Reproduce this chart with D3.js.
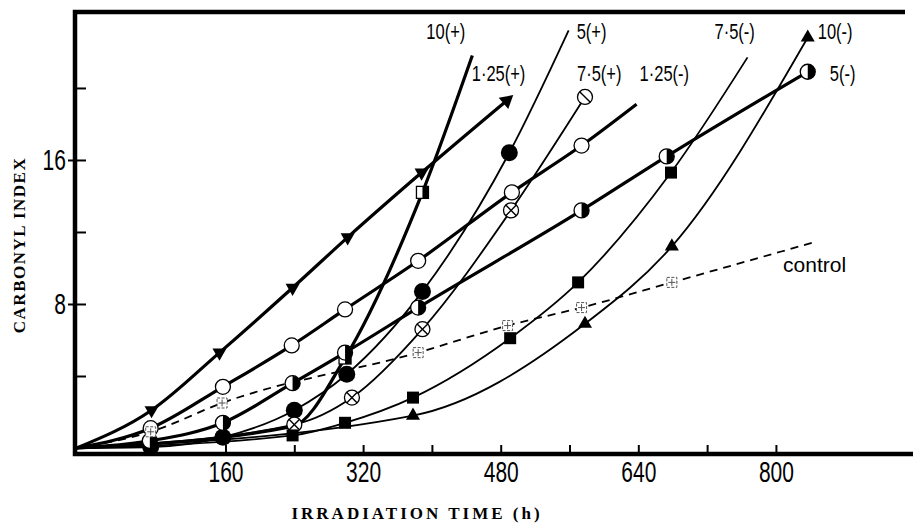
<!DOCTYPE html>
<html>
<head>
<meta charset="utf-8">
<script src="https://cdn.jsdelivr.net/npm/d3@7"></script>
<style>
  body { margin: 0; background: #fff; }
  svg { display: block; background: #fff; }
  .axis path { display: none; }
  .axis line { stroke: #000; stroke-width: 2; }
  .axis text { font-family: "Liberation Sans", Arial, sans-serif; font-size: 30px; fill: #000; }
  .curve { fill: none; stroke: #000; stroke-linejoin: round; stroke-linecap: butt; }
  .lbl { font-family: "Liberation Sans", Arial, sans-serif; font-size: 22px; fill: #000; }
  .ctl-lbl { font-family: "Liberation Sans", Arial, sans-serif; font-size: 21px; fill: #000; }
  .title { font-family: "Liberation Serif", serif; font-weight: bold; font-size: 17px; fill: #000; }
</style>
</head>
<body>
<svg id="chart" width="913" height="523"></svg>
<script>

// Axis ticks
var xTicks = [160, 240, 320, 400, 480, 560, 640, 720, 800],
    xLabels = [160, 320, 480, 640, 800],
    yTicks = [4, 8, 12, 16, 20],
    yLabels = [8, 16];

// Every curve leaves the time axis here
var origin = [-13, 0];

// Irradiation time (h) and carbonyl index
var h10p = [238, 299, 389],                     c10p = [1.2, 5.0, 14.2],
    h125p = [74, 153, 238, 302, 388],           c125p = [2.1, 5.3, 8.9, 11.7, 15.3],
    h5p = [73, 157, 240, 301, 389, 490],        c5p = [0.05, 0.6, 2.1, 4.1, 8.7, 16.4],
    h75p = [240, 307, 389, 492],                c75p = [1.3, 2.8, 6.6, 13.2],
    h125m = [73, 157, 237, 299, 384, 493, 574], c125m = [1.1, 3.4, 5.7, 7.7, 10.4, 14.2, 16.8],
    h75m = [238, 299, 378, 491, 570, 678],      c75m = [0.7, 1.4, 2.8, 6.1, 9.2, 15.3],
    h10m = [378, 578, 679],                     c10m = [1.8, 6.9, 11.2],
    h5m = [72, 157, 238, 299, 384, 574, 673],   c5m = [0.4, 1.4, 3.6, 5.3, 7.8, 13.2, 16.2],
    hCtl = [73, 156, 384, 488, 574, 679],       cCtl = [0.9, 2.5, 5.3, 6.8, 7.8, 9.2];

// Where each curve runs out, next to its label
var tip10p = [447, 21.8], tip125p = [487, 19.3], tip5p = [559, 23.2],
    tip75p = [578, 19.5], tip125m = [638, 19.1], tip75m = [767, 21.7],
    tip10m = [837, 22.8], tip5m = [837, 20.9], tipCtl = [842, 11.4];

// Names
var names = ["10(+)", "1·25(+)", "5(+)", "7·5(+)", "1·25(-)", "7·5(-)", "10(-)", "5(-)", "control"];

// Build the series table (styles and label offsets live here, not in the data)
var series = [
  {name: names[0], h: h10p,  c: c10p,  tip: tip10p,  mark: "halfsq", tipMark: null,     thick: true,  skip: 1, dx: -46, dy: -17},
  {name: names[1], h: h125p, c: c125p, tip: tip125p, mark: "tridown", tipMark: "arrow", thick: true,  skip: 0, dx: -35, dy: -20},
  {name: names[2], h: h5p,   c: c5p,   tip: tip5p,   mark: "filled", tipMark: null,     thick: false, skip: 0, dx: 8,   dy: 9},
  {name: names[3], h: h75p,  c: c75p,  tip: tip75p,  mark: "cross",  tipMark: "slash",  thick: false, skip: 0, dx: -8,  dy: -16},
  {name: names[4], h: h125m, c: c125m, tip: tip125m, mark: "open",   tipMark: null,     thick: true,  skip: 0, dx: 3,   dy: -23},
  {name: names[5], h: h75m,  c: c75m,  tip: tip75m,  mark: "square", tipMark: null,     thick: false, skip: 0, dx: -33, dy: -18},
  {name: names[6], h: h10m,  c: c10m,  tip: tip10m,  mark: "triup",  tipMark: "triup",  thick: false, skip: 0, dx: 10,  dy: 1},
  {name: names[7], h: h5m,   c: c5m,   tip: tip5m,   mark: "half",   tipMark: "half",   thick: true,  skip: 0, dx: 22,  dy: 9},
  {name: names[8], h: hCtl,  c: cCtl,  tip: tipCtl,  mark: "ctl",    tipMark: null,     thick: false, skip: 0, dx: -29, dy: 29, dashed: true}
];

var svg = d3.select("#chart"),
    margin = {top: 12, right: 0, bottom: 69, left: 75},
    width = +svg.attr("width") - margin.left - margin.right,
    height = +svg.attr("height") - margin.top - margin.bottom,
    g = svg.append("g").attr("transform", "translate(" + margin.left + "," + margin.top + ")");

var x = d3.scaleLinear().domain([-15, 959.4]).range([0, width]);
var y = d3.scaleLinear().domain([-0.333, 24.22]).range([height, 0]);

// x axis, ticks point inwards
var gx = g.append("g")
    .attr("class", "axis axis--x")
    .attr("transform", "translate(0," + height + ")")
    .call(d3.axisBottom(x)
        .tickValues(xTicks)
        .tickSizeInner(-9)
        .tickSizeOuter(0)
        .tickPadding(7)
        .tickFormat(function(d) { return xLabels.indexOf(d) >= 0 ? d : ""; }));
gx.selectAll(".tick text").attr("transform", "scale(0.7,1)");

// y axis, major ticks cross the frame
var gy = g.append("g")
    .attr("class", "axis axis--y")
    .call(d3.axisLeft(y)
        .tickValues(yTicks)
        .tickSizeInner(-11)
        .tickSizeOuter(0)
        .tickPadding(13)
        .tickFormat(function(d) { return yLabels.indexOf(d) >= 0 ? d : ""; }));
gy.selectAll(".tick line").attr("x1", function(d) { return yLabels.indexOf(d) >= 0 ? -7 : 2; });
gy.selectAll(".tick text").attr("transform", "scale(0.7,1)");

// Frame: top, left and bottom (no right edge)
g.append("path")
    .attr("d", "M" + (width - 8) + ",0H0V" + height + "H" + width)
    .attr("fill", "none")
    .attr("stroke", "#000")
    .attr("stroke-width", 4.5)
    .attr("stroke-linejoin", "miter");

var line = d3.line()
    .curve(d3.curveMonotoneX)
    .x(function(d) { return x(d[0]); })
    .y(function(d) { return y(d[1]); });

// Curves
series.forEach(function(s) {
  var pts = [origin].concat(s.h.map(function(h, i) { return [h, s.c[i]]; }), [s.tip]);
  g.append("path")
      .datum(pts)
      .attr("class", "curve")
      .attr("stroke-width", s.thick ? 3.2 : 1.8)
      .attr("stroke-dasharray", s.dashed ? "8,6" : null)
      .attr("d", line);
});

// Markers
function marker(type, cx, cy, angle) {
  var m = g.append("g").attr("transform", "translate(" + cx + "," + cy + ")");
  if (type === "tridown") {
    m.append("path").attr("d", d3.symbol(d3.symbolTriangle, 85)()).attr("transform", "rotate(180)");
  } else if (type === "triup") {
    m.append("path").attr("d", d3.symbol(d3.symbolTriangle, 85)());
  } else if (type === "arrow") {
    m.append("path").attr("d", d3.symbol(d3.symbolTriangle, 95)()).attr("transform", "rotate(" + angle + ")");
  } else if (type === "filled") {
    m.append("circle").attr("r", 8.5);
  } else if (type === "open" || type === "cross" || type === "slash" || type === "half") {
    m.append("circle").attr("r", 7.5).attr("fill", "#fff").attr("stroke", "#000").attr("stroke-width", 1.3);
    if (type === "half") m.append("path").attr("d", "M0,-7.5A7.5,7.5 0 0,1 0,7.5Z");
    if (type === "cross" || type === "slash")
      m.append("line").attr("x1", -5.3).attr("y1", -5.3).attr("x2", 5.3).attr("y2", 5.3).attr("stroke", "#000").attr("stroke-width", 1.4);
    if (type === "cross")
      m.append("line").attr("x1", -5.3).attr("y1", 5.3).attr("x2", 5.3).attr("y2", -5.3).attr("stroke", "#000").attr("stroke-width", 1.4);
  } else if (type === "square") {
    m.append("rect").attr("x", -6).attr("y", -6).attr("width", 12).attr("height", 12);
  } else if (type === "halfsq") {
    m.append("rect").attr("x", -6).attr("y", -6).attr("width", 12).attr("height", 12)
        .attr("fill", "#fff").attr("stroke", "#000").attr("stroke-width", 1.3);
    m.append("rect").attr("x", 0).attr("y", -6).attr("width", 6).attr("height", 12);
  } else if (type === "ctl") {
    m.append("rect").attr("x", -5).attr("y", -5).attr("width", 10).attr("height", 10)
        .attr("fill", "#fff").attr("stroke", "#555").attr("stroke-width", 1).attr("stroke-dasharray", "3,1.5");
    m.append("path").attr("d", "M-3.5,0H3.5M0,-3.5V3.5").attr("stroke", "#555").attr("stroke-width", 1);
  }
}

series.forEach(function(s) {
  s.h.forEach(function(h, i) {
    if (i >= s.skip) marker(s.mark, x(h), y(s.c[i]));
  });
  var tx = x(s.tip[0]), ty = y(s.tip[1]);
  if (s.tipMark) {
    var n = s.h.length - 1,
        ang = Math.atan2(ty - y(s.c[n]), tx - x(s.h[n])) * 180 / Math.PI + 90;
    marker(s.tipMark, tx, ty, ang);
  }
  // Label next to where the curve ends
  if (s.dashed) {
    g.append("text").attr("class", "ctl-lbl")
        .attr("x", tx + s.dx).attr("y", ty + s.dy)
        .text(s.name);
  } else {
    g.append("text").attr("class", "lbl")
        .attr("transform", "translate(" + (tx + s.dx) + "," + (ty + s.dy) + ") scale(0.75,1)")
        .text(s.name);
  }
});

// Axis titles
svg.append("text")
    .attr("class", "title")
    .attr("text-anchor", "middle")
    .attr("letter-spacing", 3)
    .attr("x", 417)
    .attr("y", 519)
    .text("IRRADIATION TIME (h)");

svg.append("text")
    .attr("class", "title")
    .attr("text-anchor", "middle")
    .attr("letter-spacing", 1.5)
    .attr("transform", "translate(19,245) rotate(-90)")
    .attr("dy", "0.35em")
    .text("CARBONYL INDEX");

</script>
</body>
</html>
